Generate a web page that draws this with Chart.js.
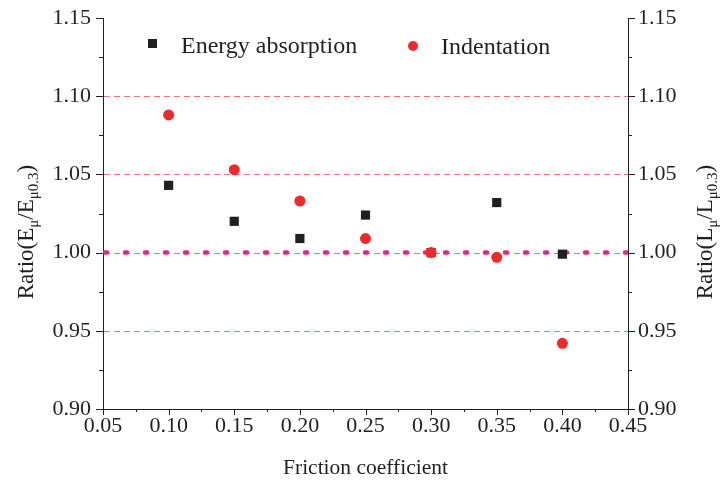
<!DOCTYPE html>
<html lang="en">
<head>
  <meta charset="UTF-8" />
  <script src="https://cdn.jsdelivr.net/npm/chart.js"></script>
  <title>Friction coefficient</title>
  <style>
    html, body { margin: 0; padding: 0; background: #fff; }
    #wrap { width: 722px; height: 486px; }
  </style>
</head>
<body>
  <div id="wrap"><canvas id="ratioChart"></canvas></div>

  <script>
    // valores
    const friction = [0.10, 0.15, 0.20, 0.25, 0.30, 0.35, 0.40];
    const energyRatio = [1.043, 1.020, 1.009, 1.024, 1.000, 1.032, 0.999];
    const indentRatio = [1.088, 1.053, 1.033, 1.009, 1.000, 0.997, 0.942];

    // linha de referência em 1.00
    const refX = [0.05, 0.45];
    const refY = [1.00, 1.00];

    const xTicks = [0.05, 0.10, 0.15, 0.20, 0.25, 0.30, 0.35, 0.40, 0.45];
    const xMinor = [0.075, 0.125, 0.175, 0.225, 0.275, 0.325, 0.375, 0.425];
    const yTicks = [0.90, 0.95, 1.00, 1.05, 1.10, 1.15];
    const yMinor = [0.925, 0.975, 1.025, 1.075, 1.125];
    const gridLines = [0.95, 1.00, 1.05, 1.10];

    const serif = "'Liberation Serif', 'Times New Roman', serif";
    const ink = "#231f20";
    const red = "#ee2a2a";

    // linhas de grade tracejadas (antes dos pontos)
    const gridPlugin = {
      id: "redGrid",
      beforeDatasetsDraw(chart) {
        const ctx = chart.ctx;
        const ys = chart.scales.y;
        const area = chart.chartArea;
        ctx.save();
        ctx.strokeStyle = "#f47476";
        ctx.lineWidth = 1;
        ctx.setLineDash([6, 4]);
        ctx.beginPath();
        gridLines.forEach(v => {
          const p = Math.round(ys.getPixelForValue(v)) + 0.5;
          ctx.moveTo(area.left + 1, p); ctx.lineTo(area.right, p);
        });
        ctx.stroke();
        ctx.restore();
      }
    };

    // ticks (maiores e menores), títulos com subscrito e legenda
    const decorPlugin = {
      id: "decor",
      afterDraw(chart) {
        const ctx = chart.ctx;
        const xs = chart.scales.x;
        const ys = chart.scales.y;
        const area = chart.chartArea;
        ctx.save();
        ctx.strokeStyle = ink;
        ctx.lineWidth = 1;
        ctx.beginPath();
        xTicks.forEach(v => {
          const p = Math.round(xs.getPixelForValue(v)) + 0.5;
          ctx.moveTo(p, area.bottom); ctx.lineTo(p, area.bottom + 6);
        });
        xMinor.forEach(v => {
          const p = Math.round(xs.getPixelForValue(v)) + 0.5;
          ctx.moveTo(p, area.bottom); ctx.lineTo(p, area.bottom + 3);
        });
        yTicks.forEach(v => {
          const p = Math.round(ys.getPixelForValue(v)) + 0.5;
          ctx.moveTo(area.left, p); ctx.lineTo(area.left - 7, p);
          ctx.moveTo(area.right, p); ctx.lineTo(area.right + 7, p);
        });
        yMinor.forEach(v => {
          const p = Math.round(ys.getPixelForValue(v)) + 0.5;
          ctx.moveTo(area.left, p); ctx.lineTo(area.left - 4, p);
          ctx.moveTo(area.right, p); ctx.lineTo(area.right + 4, p);
        });
        ctx.stroke();

        // títulos dos eixos
        ctx.fillStyle = ink;
        ctx.textBaseline = "alphabetic";
        ctx.font = "21.5px " + serif;
        ctx.textAlign = "center";
        ctx.fillText("Friction coefficient", (area.left + area.right) / 2, 474);

        drawRatioTitle(ctx, "E", 26, 232);
        drawRatioTitle(ctx, "L", 705, 232);

        // legenda
        ctx.textAlign = "left";
        ctx.font = "24px " + serif;
        ctx.fillStyle = ink;
        ctx.fillRect(148, 39, 9, 9);
        ctx.fillText(chart.data.datasets[0].label, 181, 53);
        ctx.fillStyle = red;
        ctx.beginPath();
        ctx.arc(413, 46, 5, 0, Math.PI * 2);
        ctx.fill();
        ctx.fillStyle = ink;
        ctx.fillText(chart.data.datasets[1].label, 441, 54);
        ctx.restore();
      }
    };

    function drawRatioTitle(ctx, letter, cx, cy) {
      const parts = [
        ["Ratio(" + letter, false],
        ["\u03bc", true],
        ["/" + letter, false],
        ["\u03bc0.3", true],
        [")", false]
      ];
      const big = "23px " + serif;
      const small = "15px " + serif;
      let total = 0;
      parts.forEach(([t, sub]) => {
        ctx.font = sub ? small : big;
        total += ctx.measureText(t).width;
      });
      ctx.save();
      ctx.translate(cx, cy);
      ctx.rotate(-Math.PI / 2);
      ctx.textAlign = "left";
      let x = -total / 2;
      parts.forEach(([t, sub]) => {
        ctx.font = sub ? small : big;
        ctx.fillText(t, x, sub ? 12 : 7);
        x += ctx.measureText(t).width;
      });
      ctx.restore();
    }

    const tickFont = { family: serif, size: 22 };
    const ctx = document.getElementById("ratioChart").getContext("2d");

    new Chart(ctx, {
      type: "scatter",
      data: {
        datasets: [
          {
            label: "Energy absorption",
            data: friction.map((x, i) => ({ x: x, y: energyRatio[i] })),
            pointStyle: "rect",
            pointRadius: 6.5,
            backgroundColor: ink,
            borderColor: ink,
            borderWidth: 0,
            order: 1
          },
          {
            label: "Indentation",
            data: friction.map((x, i) => ({ x: x, y: indentRatio[i] })),
            pointStyle: "circle",
            pointRadius: 5.5,
            backgroundColor: red,
            borderColor: red,
            borderWidth: 0,
            order: 0
          },
          {
            label: "ref",
            type: "line",
            data: refX.map((x, i) => ({ x: x, y: refY[i] })),
            borderColor: "#e8247c",
            borderWidth: 4.5,
            borderCapStyle: "round",
            borderDash: [2, 18],
            borderDashOffset: -2,
            pointRadius: 0,
            fill: false,
            order: 2
          }
        ]
      },
      options: {
        responsive: true,
        maintainAspectRatio: false,
        animation: false,
        layout: { padding: { top: 18, left: 0, right: 0, bottom: 0 } },
        plugins: {
          legend: { display: false },
          tooltip: { enabled: false }
        },
        scales: {
          x: {
            type: "linear",
            min: 0.05,
            max: 0.45,
            ticks: {
              stepSize: 0.05,
              padding: 4,
              color: ink,
              font: tickFont,
              callback: v => v.toFixed(2)
            },
            grid: { display: false, drawTicks: false },
            border: { color: ink, width: 1 },
            afterFit: s => { s.height = 77; s.paddingLeft = 0; s.paddingRight = 0; }
          },
          y: {
            position: "left",
            min: 0.90,
            max: 1.15,
            ticks: {
              stepSize: 0.05,
              padding: 12,
              color: ink,
              font: tickFont,
              callback: v => v.toFixed(2)
            },
            grid: { display: false, drawTicks: false },
            border: { color: ink, width: 1 },
            afterFit: s => { s.width = 103; s.paddingTop = 0; s.paddingBottom = 0; }
          },
          y2: {
            position: "right",
            min: 0.90,
            max: 1.15,
            ticks: {
              stepSize: 0.05,
              padding: 10,
              color: ink,
              font: tickFont,
              callback: v => v.toFixed(2)
            },
            grid: { display: false, drawTicks: false },
            border: { color: ink, width: 1 },
            afterFit: s => { s.width = 94; s.paddingTop = 0; s.paddingBottom = 0; }
          }
        }
      },
      plugins: [gridPlugin, decorPlugin]
    });
  </script>
</body>
</html>
